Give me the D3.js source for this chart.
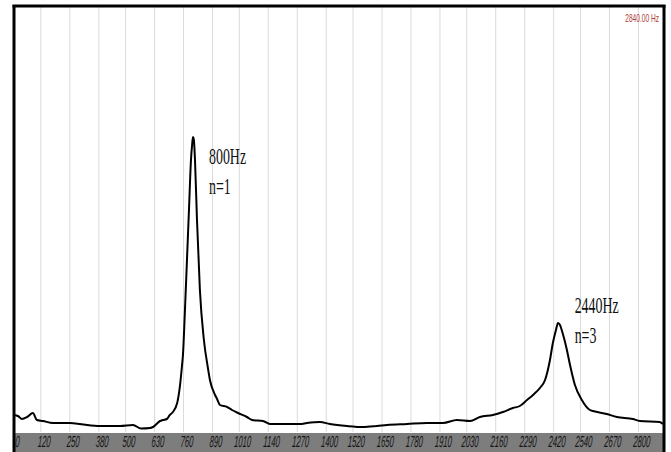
<!DOCTYPE html>
<html><head><meta charset="utf-8">
<script src="https://cdn.jsdelivr.net/npm/d3@7"></script>
<style>html,body{margin:0;padding:0;background:#fff;}svg{display:block;}</style>
</head><body>
<svg id="chart" width="671" height="452"></svg>
<script>
// Data (frequency in Hz, amplitude in arbitrary units)
const freqHz = [6,24,42,65,91,109,136,181,226,257,302,334,392,437,482,540,576,617,630,661,674,692,705,719,738,741,751,760,764,773,782,791,800,805,809,813,818,827,840,858,876,885,908,917,930,962,984,1011,1051,1074,1123,1154,1199,1289,1320,1378,1423,1500,1571,1634,1679,1769,1858,1930,1993,2052,2096,2154,2199,2244,2275,2307,2334,2365,2388,2410,2423,2437,2446,2455,2464,2486,2500,2522,2553,2589,2603,2665,2710,2782,2813,2902,2916];
const amplitude = [17,16,13,15,19,12,11,9,9,9,8,7,6,6,6,7,3.5,4,5,11,12,13,17,20,29,32,47,67,77,122,172,222,272,287,295,292,272,212,142,92,64,52,37,33,27,25,22,19,15,12,11,8,8,8,9,10,8,6,5,6,7,8,9,9,12,11,15,17,20,24,26,32,37,44,52,72,89,102,109,107,101,82,67,47,32,22,21,18,15,13,11,10,8];
const tickLabels = ["0","120","250","380","500","630","760","890","1010","1140","1270","1400","1520","1650","1780","1910","2030","2160","2290","2420","2540","2670","2800"];
const peakLabels = [{f:800, lines:["800Hz","n=1"]},{f:2440, lines:["2440Hz","n=3"]}];
const cursorLabel = "2840.00 Hz";

const svg = d3.select("#chart");
const L = 12.6, R = 663, T = 6, B = 432;
const x = d3.scaleLinear().domain([0, 2917]).range([L, R]);
const y = d3.scaleLinear().domain([0, 426]).range([B, T]);

// gridlines
svg.append("g").selectAll("line").data(tickLabels.slice(1)).join("line")
  .attr("x1", d => x(+d) + 1.5).attr("x2", d => x(+d) + 1.5)
  .attr("y1", T).attr("y2", B)
  .attr("stroke", "#dadada").attr("stroke-width", 1);

// axis bar
svg.append("rect").attr("x", 14).attr("y", 433).attr("width", R - 14).attr("height", 19).attr("fill", "#7d7d7d");

svg.append("g").selectAll("text").data(tickLabels).join("text")
  .attr("transform", d => `translate(${x(+d) + 4.5},447) scale(0.48,1) skewX(-8)`)
  .attr("text-anchor", "middle")
  .attr("font-family", "Liberation Sans, Arial, sans-serif")
  .attr("font-style", "italic")
  .attr("font-size", 16)
  .attr("fill", "#151515")
  .text(d => d);

// curve
svg.append("clipPath").attr("id", "clip").append("rect").attr("x", L).attr("y", T).attr("width", R - L).attr("height", B - T);
const pts = freqHz.map((f, i) => [f, amplitude[i]]);
svg.append("path").datum(pts)
  .attr("clip-path", "url(#clip)")
  .attr("fill", "none").attr("stroke", "#000").attr("stroke-width", 2).attr("stroke-linejoin", "round")
  .attr("d", d3.line().x(d => x(d[0])).y(d => y(d[1])).curve(d3.curveMonotoneX));

// peak annotations
const ann = [{dx: 18, y0: 164}, {dx: 18, y0: 313}];
peakLabels.forEach((p, i) => {
  const px = x(p.f) + ann[i].dx;
  p.lines.forEach((t, j) => {
    svg.append("text")
      .attr("transform", `translate(${px},${ann[i].y0 + j * 30}) scale(0.58,1)`)
      .attr("font-family", "Liberation Serif, Times New Roman, serif")
      .attr("font-size", 24).attr("fill", "#111").text(t);
  });
});

// cursor label
svg.append("text")
  .attr("transform", `translate(659,22) scale(0.6,1)`)
  .attr("text-anchor", "end")
  .attr("font-family", "Liberation Sans, Arial, sans-serif")
  .attr("font-size", 11).attr("fill", "#b03a3a").text(cursorLabel);

// frame
svg.append("line").attr("x1", 14).attr("x2", 14).attr("y1", 5).attr("y2", 452).attr("stroke", "#000").attr("stroke-width", 3);
svg.append("line").attr("x1", 664).attr("x2", 664).attr("y1", 5).attr("y2", 452).attr("stroke", "#000").attr("stroke-width", 3);
svg.append("line").attr("x1", 12.5).attr("x2", 665.5).attr("y1", 6).attr("y2", 6).attr("stroke", "#000").attr("stroke-width", 3);
</script>
</body></html>
